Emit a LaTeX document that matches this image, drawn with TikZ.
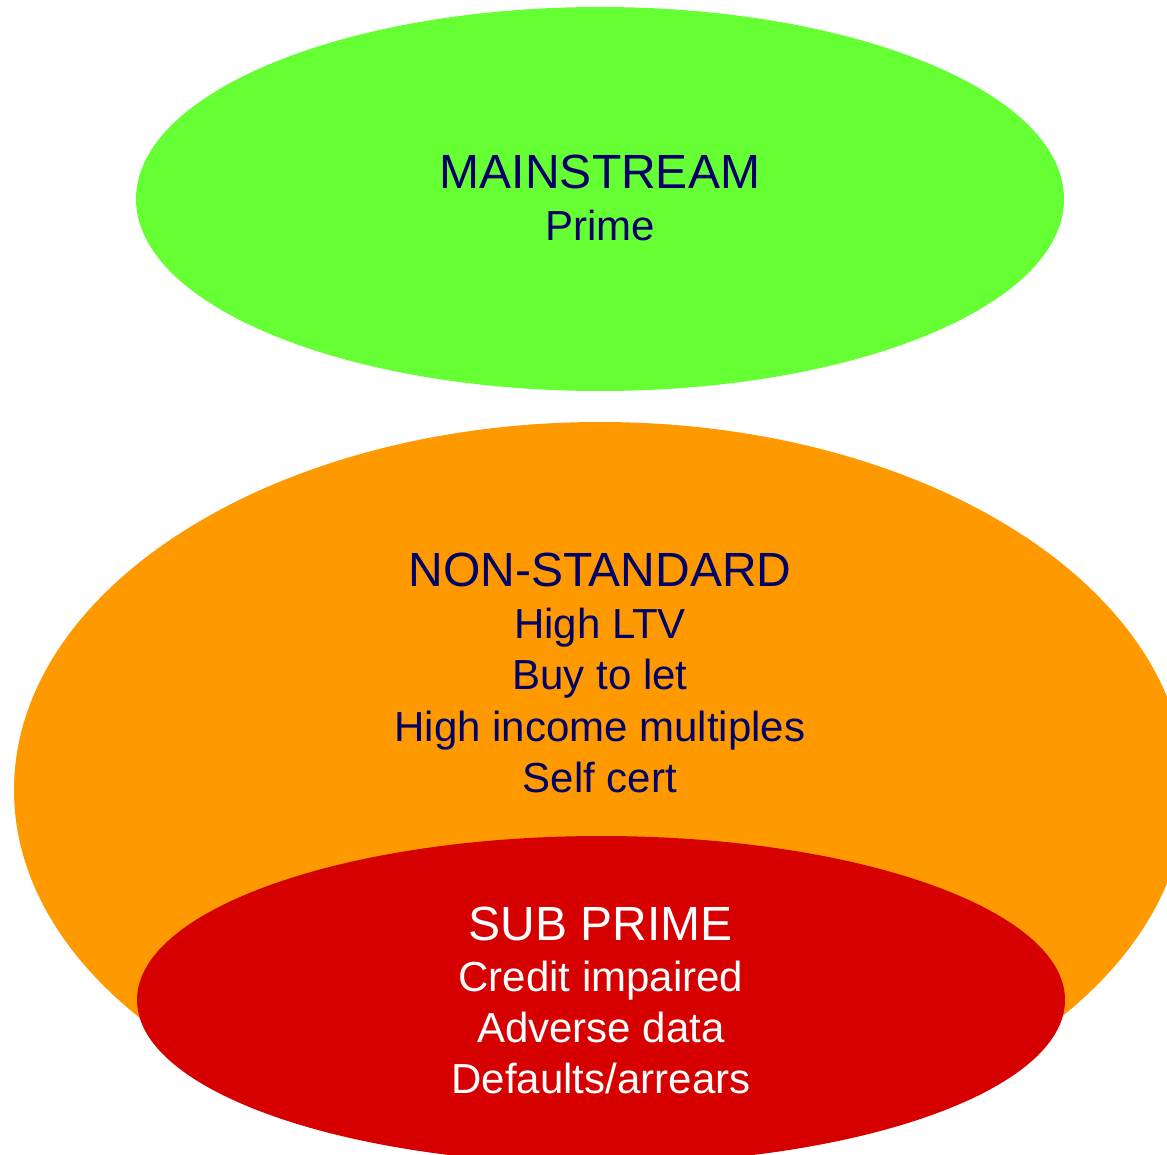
\documentclass[tikz,border=0pt]{standalone}
\usepackage{fontspec}
\setmainfont{Liberation Sans}
\usetikzlibrary{shapes.geometric}
\definecolor{primegreen}{HTML}{66FF33}
\definecolor{nonstdorange}{HTML}{FF9900}
\definecolor{subred}{HTML}{D60000}
\definecolor{navytext}{HTML}{000066}
\begin{document}
\begin{tikzpicture}[x=1pt,y=-1pt,
  blob/.style={ellipse, inner sep=0pt, draw=none},
  headline/.style={anchor=base, inner sep=0pt, font=\fontsize{48}{52}\selectfont},
  itemline/.style={anchor=base, inner sep=0pt, font=\fontsize{42}{48}\selectfont}]
\useasboundingbox (0,0) rectangle (1167,1155);
\clip (0,0) rectangle (1167,1155);

% segments of the mortgage market
\node[blob, fill=primegreen, minimum width=928pt, minimum height=384pt] (mainstream) at (600,199) {};
\node[blob, fill=nonstdorange, minimum width=1172pt, minimum height=736pt] (nonstandard) at (600,790) {};
\node[blob, fill=subred, minimum width=928pt, minimum height=328pt] (subprime) at (601,1000) {};

% mainstream labels
\node[headline, text=navytext] (msHead) at (600,189) {MAINSTREAM};
\node[itemline, text=navytext] (msPrime) at (600,241) {Prime};

% non-standard labels
\node[headline, text=navytext] (nsHead) at (600,586) {NON-STANDARD};
\node[itemline, text=navytext] (nsLtv) at (600,638) {High LTV};
\node[itemline, text=navytext] (nsBtl) at (600,689) {Buy to let};
\node[itemline, text=navytext] (nsMult) at (600,741) {High income multiples};
\node[itemline, text=navytext] (nsSelf) at (600,792) {Self cert};

% sub prime labels
\node[headline, text=white] (spHead) at (601,940) {SUB PRIME};
\node[itemline, text=white] (spCredit) at (601,991) {Credit impaired};
\node[itemline, text=white] (spAdverse) at (601,1042) {Adverse data};
\node[itemline, text=white] (spDefaults) at (601,1093) {Defaults/arrears};
\end{tikzpicture}
\end{document}
